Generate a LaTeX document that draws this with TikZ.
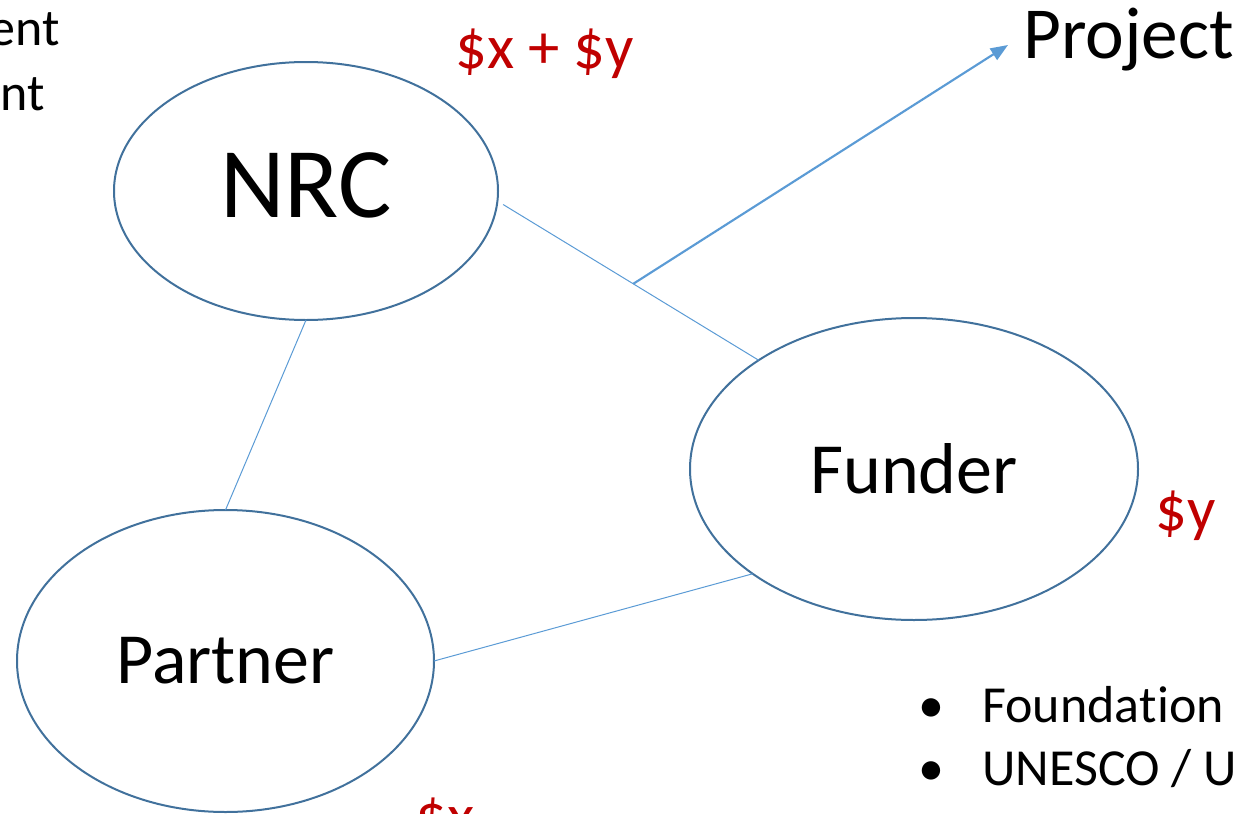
\documentclass[tikz,border=0pt]{standalone}
\usepackage{fontspec}
\setmainfont{Carlito}[RawFeature={-liga;-clig;-dlig}]
\usetikzlibrary{shapes.geometric,arrows.meta}
\definecolor{ellblue}{HTML}{41719C}
\definecolor{linkblue}{HTML}{5B9BD5}
\definecolor{moneyred}{HTML}{C00000}
\tikzset{
  party/.style={ellipse, draw=ellblue, line width=1.5pt, inner sep=0pt, outer sep=0pt},
  link/.style={draw=linkblue, line width=0.75pt},
  flow/.style={draw=linkblue, line width=1.6pt, -{Triangle[length=13pt,width=10pt]}},
  money/.style={text=moneyred, inner sep=0pt, font=\fontsize{47}{56}\selectfont},
  plain/.style={text=black, inner sep=0pt},
}
\begin{document}
\begin{tikzpicture}[x=0.75pt,y=-0.75pt]
\useasboundingbox (0,0) rectangle (1243,814);
% ellipses
\node[party, minimum width=384*0.75pt, minimum height=258*0.75pt,
      font=\fontsize{75}{90}\selectfont, text depth=9pt] (nrc) at (306,191) {NRC};
\node[party, minimum width=448*0.75pt, minimum height=302*0.75pt,
      font=\fontsize{54}{65}\selectfont] (funder) at (914,469) {Funder};
\node[party, minimum width=417*0.75pt, minimum height=302*0.75pt,
      font=\fontsize{54}{65}\selectfont] (partner) at (225.5,661) {Partner};
% connectors
\draw[link] (nrc.270) -- (partner.90);
\draw[link, shorten <=5pt] (nrc.-3) -- coordinate[pos=0.52] (mid) (funder.145.7);
\draw[link] (partner.0) -- (funder.213.9);
% project
\node[plain, anchor=base west, font=\fontsize{55}{66}\selectfont] (project) at (1023,58) {Project};
\coordinate (tip) at (1008,45);
\draw[flow] (mid) -- (tip);
% money labels
\node[money, anchor=base west] (xy) at (455,68) {\$x + \$y};
\node[money, anchor=base west] (ylab) at (1155,530) {\$y};
\node[money, anchor=base west] (xlab) at (415,837) {\$x};
% cut-off text top left
\node[plain, anchor=base east, font=\fontsize{39}{47}\selectfont] (ent) at (60,45) {ent};
\node[plain, anchor=base east, font=\fontsize{39}{47}\selectfont] (nt) at (45,110) {nt};
% bullet list
\node[plain, anchor=base west, font=\fontsize{39}{47}\selectfont] (b1) at (918,722) {•};
\node[plain, anchor=base west, font=\fontsize{39}{47}\selectfont] (f1) at (982,722) {Founda\kern0pt tion};
\node[plain, anchor=base west, font=\fontsize{39}{47}\selectfont] (b2) at (918,785) {•};
\node[plain, anchor=base west, font=\fontsize{39}{47}\selectfont] (f2) at (982,785) {UNESCO / U};
\end{tikzpicture}
\end{document}
